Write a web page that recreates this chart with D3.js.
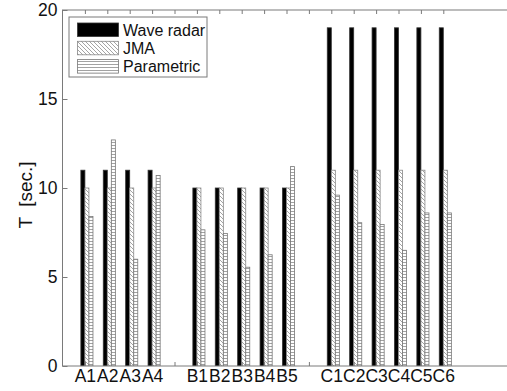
<!DOCTYPE html>
<html><head><meta charset="utf-8">
<script src="https://cdn.jsdelivr.net/npm/d3@7"></script>
<style>
html,body{margin:0;padding:0;background:#fff;}
svg{display:block;font-family:"Liberation Sans",Arial,sans-serif;}
</style></head>
<body>
<svg id="chart" width="507" height="391"></svg>
<script>
// Data
const categories = ["A1","A2","A3","A4","","B1","B2","B3","B4","B5","","C1","C2","C3","C4","C5","C6"];
const waveRadar  = [11,11,11,11,null,10,10,10,10,10,null,19,19,19,19,19,19];
const jma        = [10,10,10,10,null,10,10,10,10,10,null,11,11,11,11,11,11];
const parametric = [8.4,12.7,6.0,10.7,null,7.65,7.45,5.55,6.25,11.2,null,9.6,8.05,7.95,6.5,8.6,8.6];
const seriesNames = ["Wave radar","JMA","Parametric"];
const yTicks = [0,5,10,15,20];

(function(){
const svg = d3.select("#chart");
const pLeft = 62.5, pRight = 510.5, pTop = 10, pBottom = 366;

const x = d3.scaleLinear().domain([0,20]).range([pLeft,pRight]);
const y = d3.scaleLinear().domain([0,20]).range([pBottom,pTop]);

const defs = svg.append("defs");
const hatch = defs.append("pattern").attr("id","hatch").attr("patternUnits","userSpaceOnUse")
  .attr("width",4).attr("height",4);
hatch.append("rect").attr("width",4).attr("height",4).attr("fill","#fff");
hatch.append("path").attr("d","M-1,-1 L5,5 M-1,3 L1,5 M3,-1 L5,1").attr("stroke","#9a9a9a").attr("stroke-width",0.9);
const horiz = defs.append("pattern").attr("id","horiz").attr("patternUnits","userSpaceOnUse")
  .attr("width",4).attr("height",3);
horiz.append("rect").attr("width",4).attr("height",3).attr("fill","#fff");
horiz.append("path").attr("d","M0,1.5 L4,1.5").attr("stroke","#8a8a8a").attr("stroke-width",0.8);

const fills = ["#000","url(#hatch)","url(#horiz)"];
const strokes = ["#333","#888","#777"];
const bw = 0.18;
const series = [waveRadar, jma, parametric];

const clip = defs.append("clipPath").attr("id","plotclip");
clip.append("rect").attr("x",pLeft).attr("y",pTop).attr("width",pRight-pLeft).attr("height",pBottom-pTop);

const gBars = svg.append("g").attr("clip-path","url(#plotclip)");
series.forEach((vals,si)=>{
  gBars.selectAll(null).data(vals.map((v,i)=>({v,i})).filter(d=>d.v!=null))
    .enter().append("rect")
    .attr("x",d=>x(d.i+1 + (si-1)*bw))
    .attr("width",x(bw)-x(0))
    .attr("y",d=>y(d.v))
    .attr("height",d=>y(0)-y(d.v))
    .attr("fill",fills[si])
    .attr("stroke",strokes[si])
    .attr("stroke-width",0.8);
});

const axisColor = "#7a7a7a";
svg.append("rect").attr("x",pLeft).attr("y",pTop).attr("width",pRight-pLeft).attr("height",pBottom-pTop)
  .attr("fill","none").attr("stroke",axisColor).attr("stroke-width",1);

const yAxis = d3.axisLeft(y).tickValues(yTicks).tickSize(-5).tickPadding(8).tickFormat(d3.format("d"));
const gy = svg.append("g").attr("transform",`translate(${pLeft},0)`).call(yAxis);
gy.select(".domain").remove();
gy.selectAll(".tick line").attr("stroke",axisColor);
gy.selectAll(".tick text").attr("font-size",17.5).attr("fill","#111").attr("x",-5);

const idx = categories.map((c,i)=>i+1);
const xAxis = d3.axisBottom(x).tickValues(idx).tickSize(-4).tickPadding(7).tickFormat((d)=>categories[d-1]);
const gx = svg.append("g").attr("transform",`translate(0,${pBottom})`).call(xAxis);
gx.select(".domain").remove();
gx.selectAll(".tick line").attr("stroke",axisColor);
gx.selectAll(".tick text").attr("font-size",17.5).attr("fill","#111").attr("y",4).attr("dy","0.71em");

const xTop = d3.axisTop(x).tickValues(idx).tickSize(-4).tickFormat("");
const gt = svg.append("g").attr("transform",`translate(0,${pTop})`).call(xTop);
gt.select(".domain").remove();
gt.selectAll(".tick line").attr("stroke",axisColor);

svg.append("text").attr("transform","translate(32,195) rotate(-90)")
  .attr("text-anchor","middle").attr("font-size",19).attr("fill","#111")
  .attr("xml:space","preserve").text("T  [sec.]");

const lg = svg.append("g");
lg.append("rect").attr("x",69).attr("y",17).attr("width",138).attr("height",60)
  .attr("fill","#fff").attr("stroke",axisColor);
seriesNames.forEach((n,i)=>{
  const yy = 23 + i*18.3;
  lg.append("rect").attr("x",77.5).attr("y",yy).attr("width",41).attr("height",13.5)
    .attr("fill",fills[i]).attr("stroke",strokes[i]).attr("stroke-width",0.8);
  lg.append("text").attr("x",123).attr("y",yy+12.8).attr("font-size",16).attr("fill","#111").text(n);
});
})();
</script>
</body></html>
